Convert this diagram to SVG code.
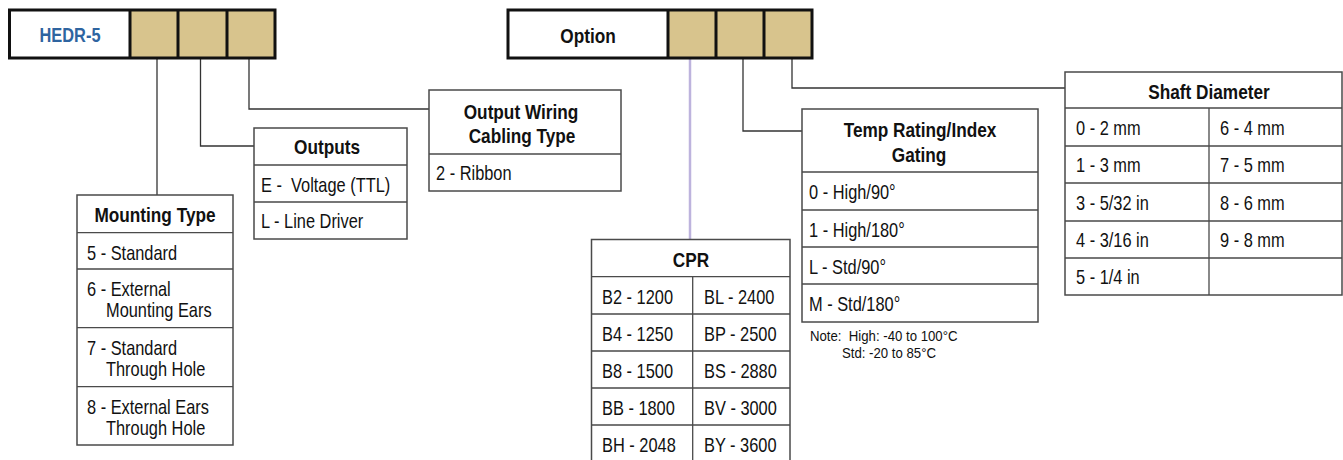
<svg xmlns="http://www.w3.org/2000/svg" width="1343" height="460" viewBox="0 0 1343 460">
<style>
text{font-family:"Liberation Sans",Arial,sans-serif;fill:#111}
.h{font-weight:bold;font-size:21px;text-anchor:middle}
.b{font-size:20px}
.n{font-size:15px}
.box{fill:#fff;stroke:#4a4a4a;stroke-width:1.5}
.ln{stroke:#4a4a4a;stroke-width:1.3;fill:none}
.tan{fill:#D8C48D}
.bar{fill:none;stroke:#111;stroke-width:3}
.con{fill:none;stroke:#333;stroke-width:1.3}
</style>
<rect width="1343" height="460" fill="#fff"/>

<g id="connectors">
<path class="con" d="M157,58V195"/>
<path class="con" d="M200.5,58V146H254"/>
<path class="con" d="M249,58V109H429"/>
<path d="M690,58V240" fill="none" stroke="#BDB3DD" stroke-width="2.5"/>
<path class="con" d="M743,58V131H802"/>
<path class="con" d="M792,58V88H1065"/>
</g>

<g id="hedr5">
<rect x="9.5" y="10" width="120.5" height="48" fill="#fff"/>
<rect class="tan" x="130" y="10" width="145" height="48"/>
<rect class="bar" x="9.5" y="10" width="265.5" height="48"/>
<path class="bar" d="M130,10V58M178,10V58M227,10V58"/>
<text transform="translate(70 42) scale(.82 1)" font-size="20" font-weight="bold" text-anchor="middle" style="fill:#2E64A0">HEDR-5</text>
</g>

<g id="option">
<rect x="508" y="10" width="160" height="48" fill="#fff"/>
<rect class="tan" x="668" y="10" width="144" height="48"/>
<rect class="bar" x="508" y="10" width="304" height="48"/>
<path class="bar" d="M668,10V58M716,10V58M764,10V58"/>
<text transform="translate(588 43) scale(.82 1)" font-size="21" font-weight="bold" text-anchor="middle">Option</text>
</g>

<g id="mounting-type">
<rect class="box" x="77" y="195" width="156" height="250"/>
<path class="ln" d="M77,232.7H233M77,269H233M77,327.7H233M77,386.7H233"/>
<text class="h" transform="translate(155 222) scale(.82 1)">Mounting Type</text>
<text class="b" transform="translate(87 260) scale(.82 1)">5 - Standard</text>
<text class="b" transform="translate(87 296) scale(.82 1)">6 - External</text>
<text class="b" transform="translate(106 317) scale(.82 1)">Mounting Ears</text>
<text class="b" transform="translate(87 355) scale(.82 1)">7 - Standard</text>
<text class="b" transform="translate(106 376) scale(.82 1)">Through Hole</text>
<text class="b" transform="translate(87 414) scale(.82 1)">8 - External Ears</text>
<text class="b" transform="translate(106 435) scale(.82 1)">Through Hole</text>
</g>

<g id="outputs">
<rect class="box" x="254" y="128" width="153" height="111"/>
<path class="ln" d="M254,165H407M254,202H407"/>
<text class="h" transform="translate(327 154) scale(.82 1)">Outputs</text>
<text class="b" transform="translate(261 192) scale(.82 1)" xml:space="preserve">E -  Voltage (TTL)</text>
<text class="b" transform="translate(261 228) scale(.82 1)">L - Line Driver</text>
</g>

<g id="output-wiring">
<rect class="box" x="429" y="90" width="192" height="101"/>
<path class="ln" d="M429,154H621"/>
<text class="h" transform="translate(521 119) scale(.82 1)">Output Wiring</text>
<text class="h" transform="translate(522 143) scale(.82 1)">Cabling Type</text>
<text class="b" transform="translate(436 180) scale(.82 1)">2 - Ribbon</text>
</g>

<g id="cpr">
<rect class="box" x="591.5" y="239.5" width="198.5" height="240"/>
<path class="ln" d="M591.5,276.7H790M591.5,314H790M591.5,351H790M591.5,388H790M591.5,425H790M692.7,276.7V470"/>
<text class="h" transform="translate(691 267) scale(.82 1)">CPR</text>
<text class="b" transform="translate(602 304) scale(.82 1)">B2 - 1200</text>
<text class="b" transform="translate(704 304) scale(.82 1)">BL - 2400</text>
<text class="b" transform="translate(602 341) scale(.82 1)">B4 - 1250</text>
<text class="b" transform="translate(704 341) scale(.82 1)">BP - 2500</text>
<text class="b" transform="translate(602 378) scale(.82 1)">B8 - 1500</text>
<text class="b" transform="translate(704 378) scale(.82 1)">BS - 2880</text>
<text class="b" transform="translate(602 415) scale(.82 1)">BB - 1800</text>
<text class="b" transform="translate(704 415) scale(.82 1)">BV - 3000</text>
<text class="b" transform="translate(602 452) scale(.82 1)">BH - 2048</text>
<text class="b" transform="translate(704 452) scale(.82 1)">BY - 3600</text>
</g>

<g id="temp-rating">
<rect class="box" x="802" y="109" width="236" height="213"/>
<path class="ln" d="M802,172H1038M802,210H1038M802,247H1038M802,284H1038"/>
<text class="h" transform="translate(920 137) scale(.82 1)">Temp Rating/Index</text>
<text class="h" transform="translate(919 162) scale(.82 1)">Gating</text>
<text class="b" transform="translate(809 199) scale(.82 1)">0 - High/90°</text>
<text class="b" transform="translate(809 237) scale(.82 1)">1 - High/180°</text>
<text class="b" transform="translate(809 274) scale(.82 1)">L - Std/90°</text>
<text class="b" transform="translate(809 311) scale(.82 1)">M - Std/180°</text>
<text class="n" transform="translate(810 341) scale(.88 1)" xml:space="preserve">Note:  High: -40 to 100°C</text>
<text class="n" transform="translate(842 358) scale(.88 1)">Std: -20 to 85°C</text>
</g>

<g id="shaft-diameter">
<rect class="box" x="1065" y="72" width="277" height="223"/>
<path class="ln" d="M1065,108H1342M1065,146H1342M1065,183H1342M1065,221H1342M1065,258H1342M1209,108V295"/>
<text class="h" transform="translate(1209 99) scale(.82 1)">Shaft Diameter</text>
<text class="b" transform="translate(1076 135) scale(.82 1)">0 - 2 mm</text>
<text class="b" transform="translate(1220 135) scale(.82 1)">6 - 4 mm</text>
<text class="b" transform="translate(1076 172) scale(.82 1)">1 - 3 mm</text>
<text class="b" transform="translate(1220 172) scale(.82 1)">7 - 5 mm</text>
<text class="b" transform="translate(1076 210) scale(.82 1)">3 - 5/32 in</text>
<text class="b" transform="translate(1220 210) scale(.82 1)">8 - 6 mm</text>
<text class="b" transform="translate(1076 247) scale(.82 1)">4 - 3/16 in</text>
<text class="b" transform="translate(1220 247) scale(.82 1)">9 - 8 mm</text>
<text class="b" transform="translate(1076 284) scale(.82 1)">5 - 1/4 in</text>
</g>
</svg>
